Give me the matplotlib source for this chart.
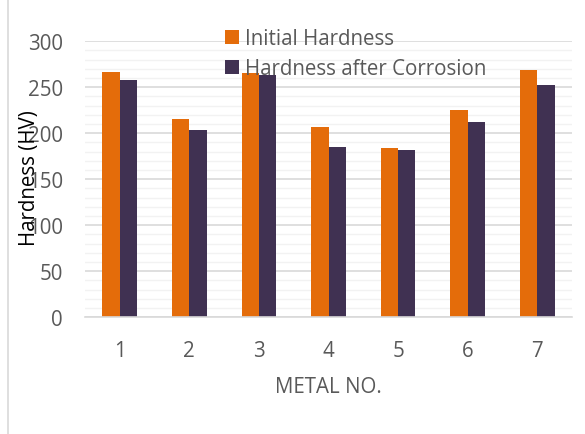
import matplotlib
matplotlib.use("Agg")
import matplotlib.pyplot as plt
import numpy as np
from matplotlib.lines import Line2D
from matplotlib.patches import Patch
from matplotlib.ticker import MultipleLocator

metals = ["1", "2", "3", "4", "5", "6", "7"]
initial_hardness = [267, 215, 266, 207, 184, 225, 269]
after_corrosion = [258, 204, 263, 185, 182, 212, 252]
series_names = ["Initial Hardness", "Hardness after Corrosion"]

plt.rcParams["font.family"] = ["Open Sans", "DejaVu Sans"]

ORANGE = "#E46C0A"
PURPLE = "#403152"
TEXT_GRAY = "#595959"
FS = 14.8

fig = plt.figure(figsize=(5.85, 4.35), dpi=100)
ax = fig.add_axes([0.1453, 0.2683, 0.9778 - 0.1453, 0.9028 - 0.2683])

x = np.arange(len(metals))
w = 0.25
ax.bar(x - w / 2, initial_hardness, width=w, color=ORANGE, zorder=3)
ax.bar(x + w / 2, after_corrosion, width=w, color=PURPLE, zorder=3)

ax.set_xlim(-0.5, len(metals) - 0.5)
ax.set_ylim(0, 300)
ax.yaxis.set_major_locator(MultipleLocator(50))
ax.yaxis.set_minor_locator(MultipleLocator(10))
ax.grid(axis="y", which="major", color="#D9D9D9", linewidth=1.2, zorder=0)
ax.grid(axis="y", which="minor", color="#F2F2F2", linewidth=1.0, zorder=0)

for s in ["top", "right", "left"]:
    ax.spines[s].set_visible(False)
ax.spines["bottom"].set_color("#D9D9D9")
ax.spines["bottom"].set_linewidth(1.2)
ax.spines["bottom"].set_zorder(4)

ax.set_xticks(x)
ax.set_xticklabels(metals)
ax.tick_params(axis="both", which="both", length=0, labelsize=FS, labelcolor=TEXT_GRAY)
ax.tick_params(axis="x", pad=16)
ax.tick_params(axis="y", pad=16)
ax.set_xlabel("METAL NO.", fontsize=FS, color=TEXT_GRAY, labelpad=11)

fig.text(29 / 585, 1 - 178 / 435, "Hardness (HV)", rotation=90, fontsize=FS,
         color="black", ha="center", va="center")

handles = [Patch(facecolor=ORANGE), Patch(facecolor=PURPLE)]
fig.legend(handles, series_names, loc="upper left",
           bbox_to_anchor=(217 / 585, 1 - 21 / 435), frameon=False,
           fontsize=FS, labelcolor=TEXT_GRAY, handlelength=0.65, handleheight=0.65,
           handletextpad=0.3, labelspacing=0.45, borderaxespad=0)

fig.add_artist(Line2D([8 / 585, 8 / 585], [0, 1], transform=fig.transFigure,
                      color="#D9D9D9", linewidth=1.2))

fig.savefig("out.png", dpi=100)
